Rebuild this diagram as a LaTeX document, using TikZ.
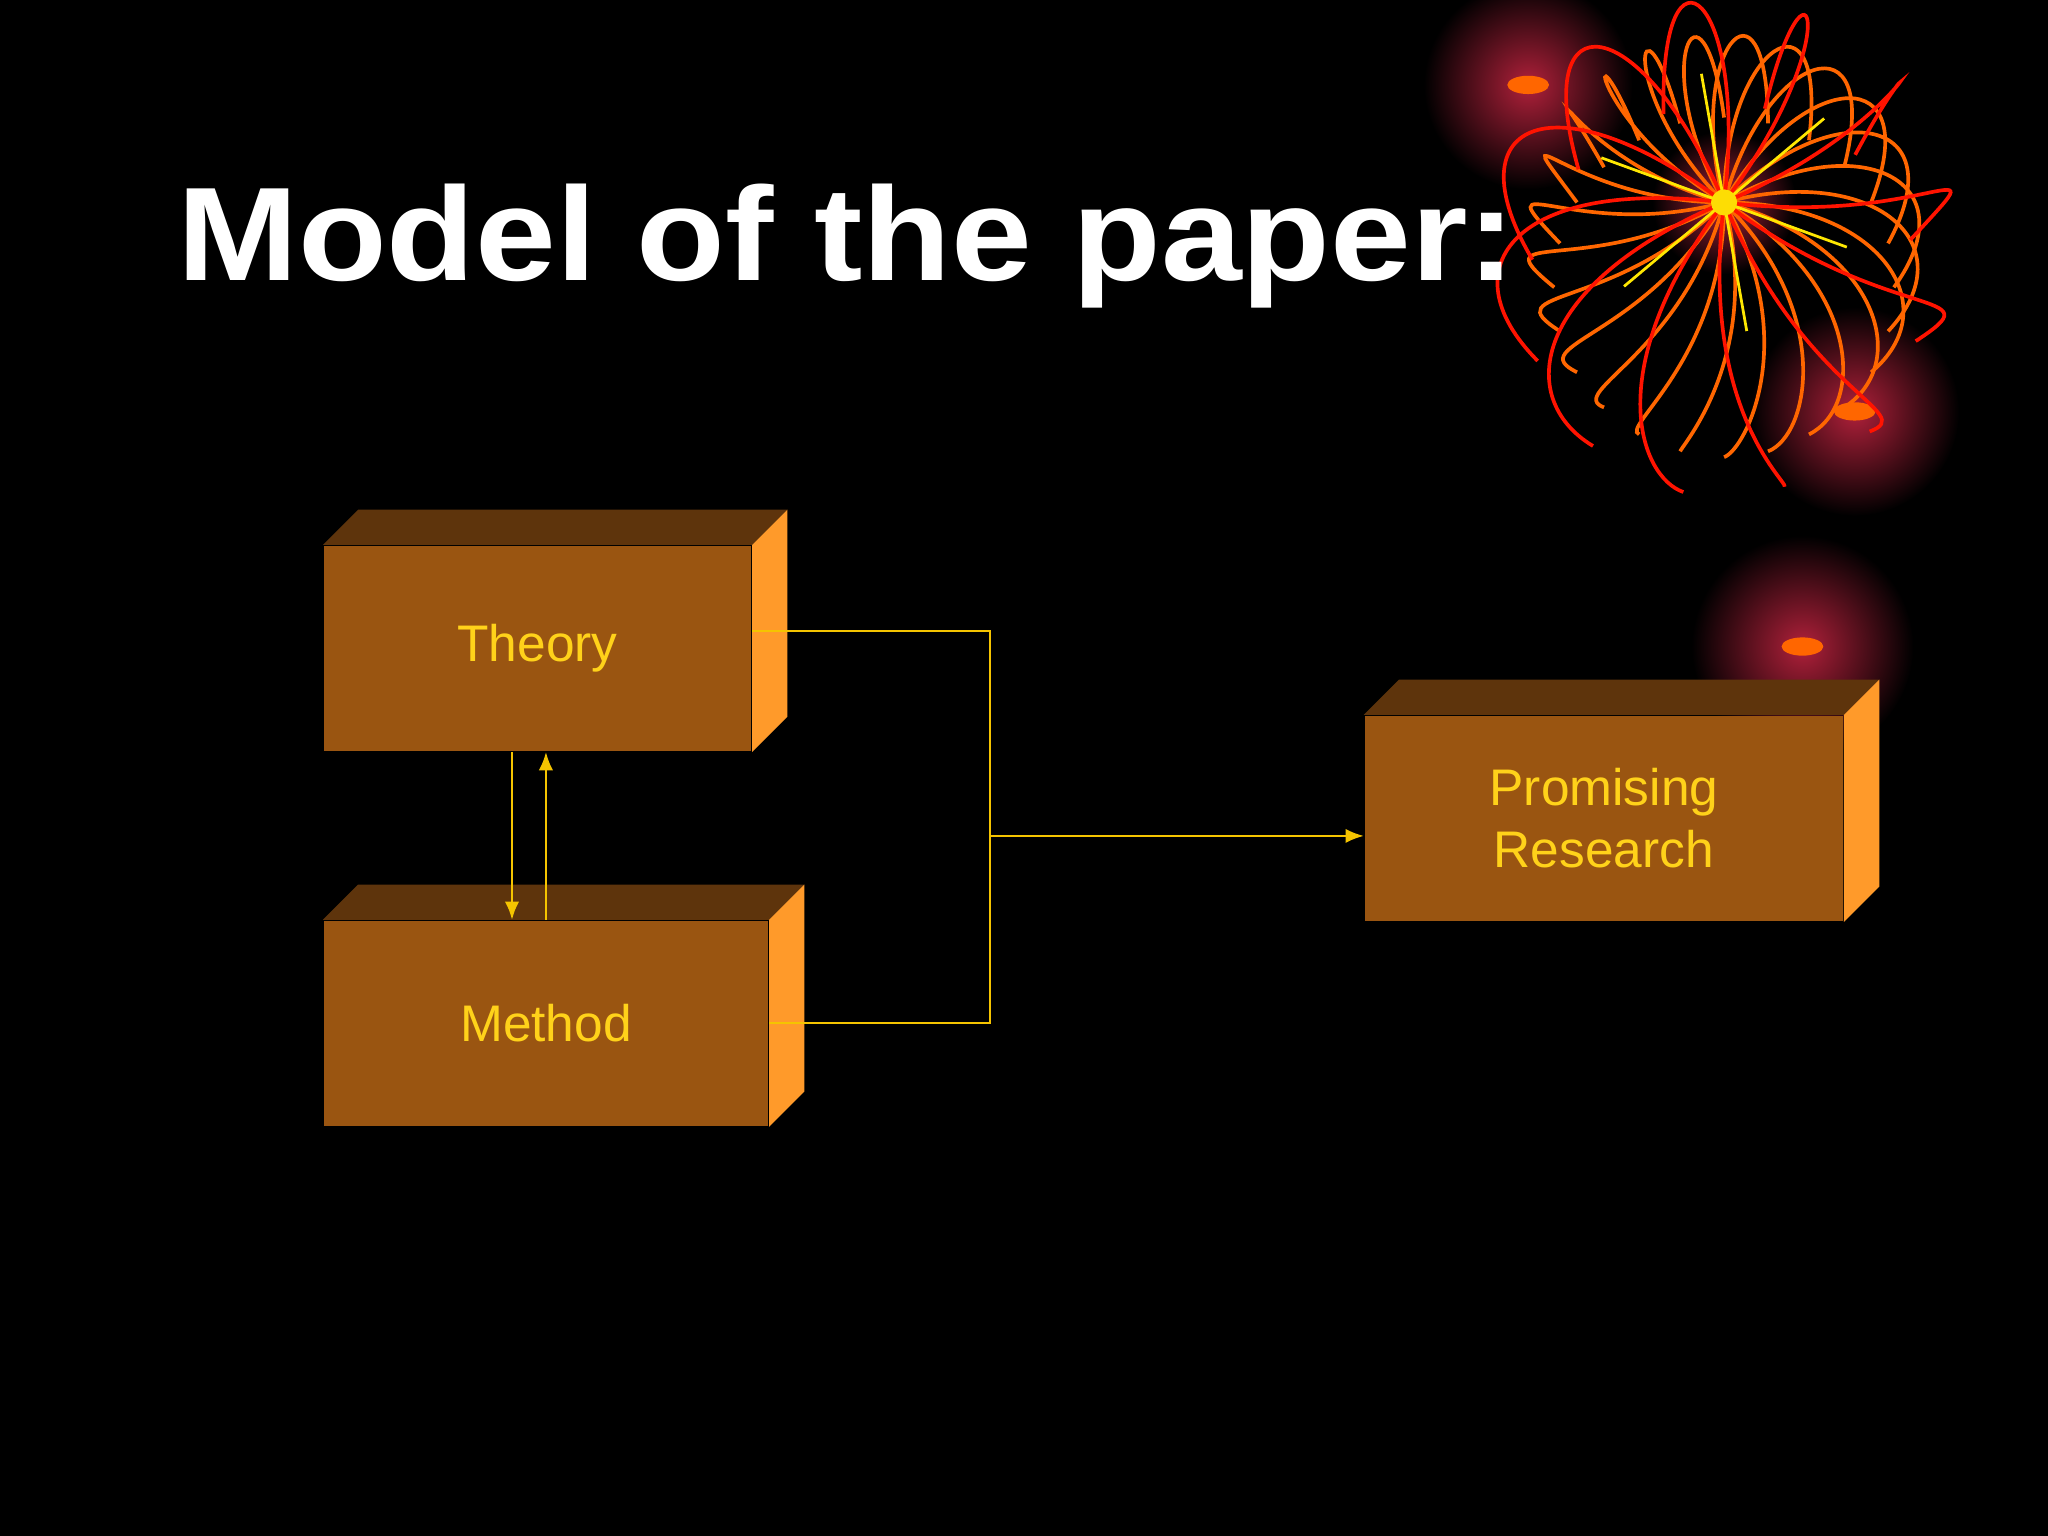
\documentclass[tikz,border=0pt]{standalone}
\usepackage{fontspec}
\setmainfont{Liberation Sans}
\usetikzlibrary{arrows.meta,calc}
\definecolor{frontc}{HTML}{9A5511}
\definecolor{topc}{HTML}{5E340C}
\definecolor{sidec}{HTML}{FF9A2A}
\definecolor{txtc}{HTML}{FFD21A}
\definecolor{linec}{HTML}{F5C400}
\definecolor{glowc}{HTML}{B0203A}
\tikzset{
  box/.style={fill=frontc,draw=none,inner sep=0pt,font=\fontsize{11.2}{13.6}\selectfont,text=txtc,align=center},
  conn/.style={linec,line width=0.5pt},
  arr/.style={conn,-{Latex[length=1.4mm,width=1.1mm]}}
}
\newcommand{\boxfaces}[1]{%
  \fill[topc] (#1.north west) -- ++(27,-27) -- ($(#1.north east)+(27,-27)$) -- (#1.north east) -- cycle;
  \fill[sidec] (#1.north east) -- ++(27,-27) -- ($(#1.south east)+(27,-27)$) -- (#1.south east) -- cycle;
}
\begin{document}
\begin{tikzpicture}[x=0.01cm,y=-0.01cm]
\useasboundingbox (0,0) rectangle (1568,1176);
\fill[black] (0,0) rectangle (1568,1176);
\begin{scope}
\clip (0,0) rectangle (1568,1176);
% decoration glows
\foreach \p/\r in {{(1170,65)/80},{(1420,315)/80},{(1380,495)/85},{(1320,155)/55}}{
  \shade[inner color=glowc,outer color=black] \p circle (\r);
}
\foreach \p in {(1170,65),(1420,315),(1380,495)}{
  \fill[orange!80!red] \p ellipse (16 and 7);
}
% firework strands
\foreach \a in {0,15,...,345}{
  \draw[orange!80!red,line width=0.8pt] (1320,155) .. controls ($(1320,155)+(\a:120)$) and ($(1320,155)+(\a+25:190)$) .. ($(1320,220)+(\a+30:130)$);
}
\foreach \a in {7,37,...,340}{
  \draw[red!85!orange,line width=0.8pt] (1320,155) .. controls ($(1320,155)+(\a:160)$) and ($(1320,155)+(\a-20:220)$) .. ($(1320,230)+(\a-25:150)$);
}
\foreach \a in {20,80,...,340}{
  \draw[yellow!90!orange,line width=0.6pt] (1320,155) -- ($(1320,155)+(\a:100)$);
}
\fill[yellow!80!orange] (1320,155) circle (10);
\end{scope}
% title
\node[anchor=base west,text=white,font=\fontsize{29}{34}\bfseries\selectfont,inner sep=0pt,xscale=1.09] (title) at (135,215) {Model of the paper:};
% boxes
\node[box,minimum width=3.27cm,minimum height=1.57cm] (theory) at (411.5,496.5) {Theory};
\node[box,minimum width=3.40cm,minimum height=1.57cm] (method) at (418,783.5) {Method};
\node[box,minimum width=3.66cm,minimum height=1.57cm] (prom) at (1228,626.5) {Promising\\Research};
\boxfaces{theory}
\boxfaces{method}
\boxfaces{prom}
% connectors
\coordinate (j1) at (758,483);
\coordinate (j2) at (758,783);
\coordinate (jm) at (758,640);
\draw[conn] (theory.east |- j1) -- (j1) -- (j2) -- (method.east |- j2);
\draw[arr] (jm) -- (prom.west |- jm);
\draw[arr] (theory.south -| 392,0) -- (method.north -| 392,0);
\draw[arr] (method.north -| 418,0) -- (theory.south -| 418,0);
\end{tikzpicture}
\end{document}
